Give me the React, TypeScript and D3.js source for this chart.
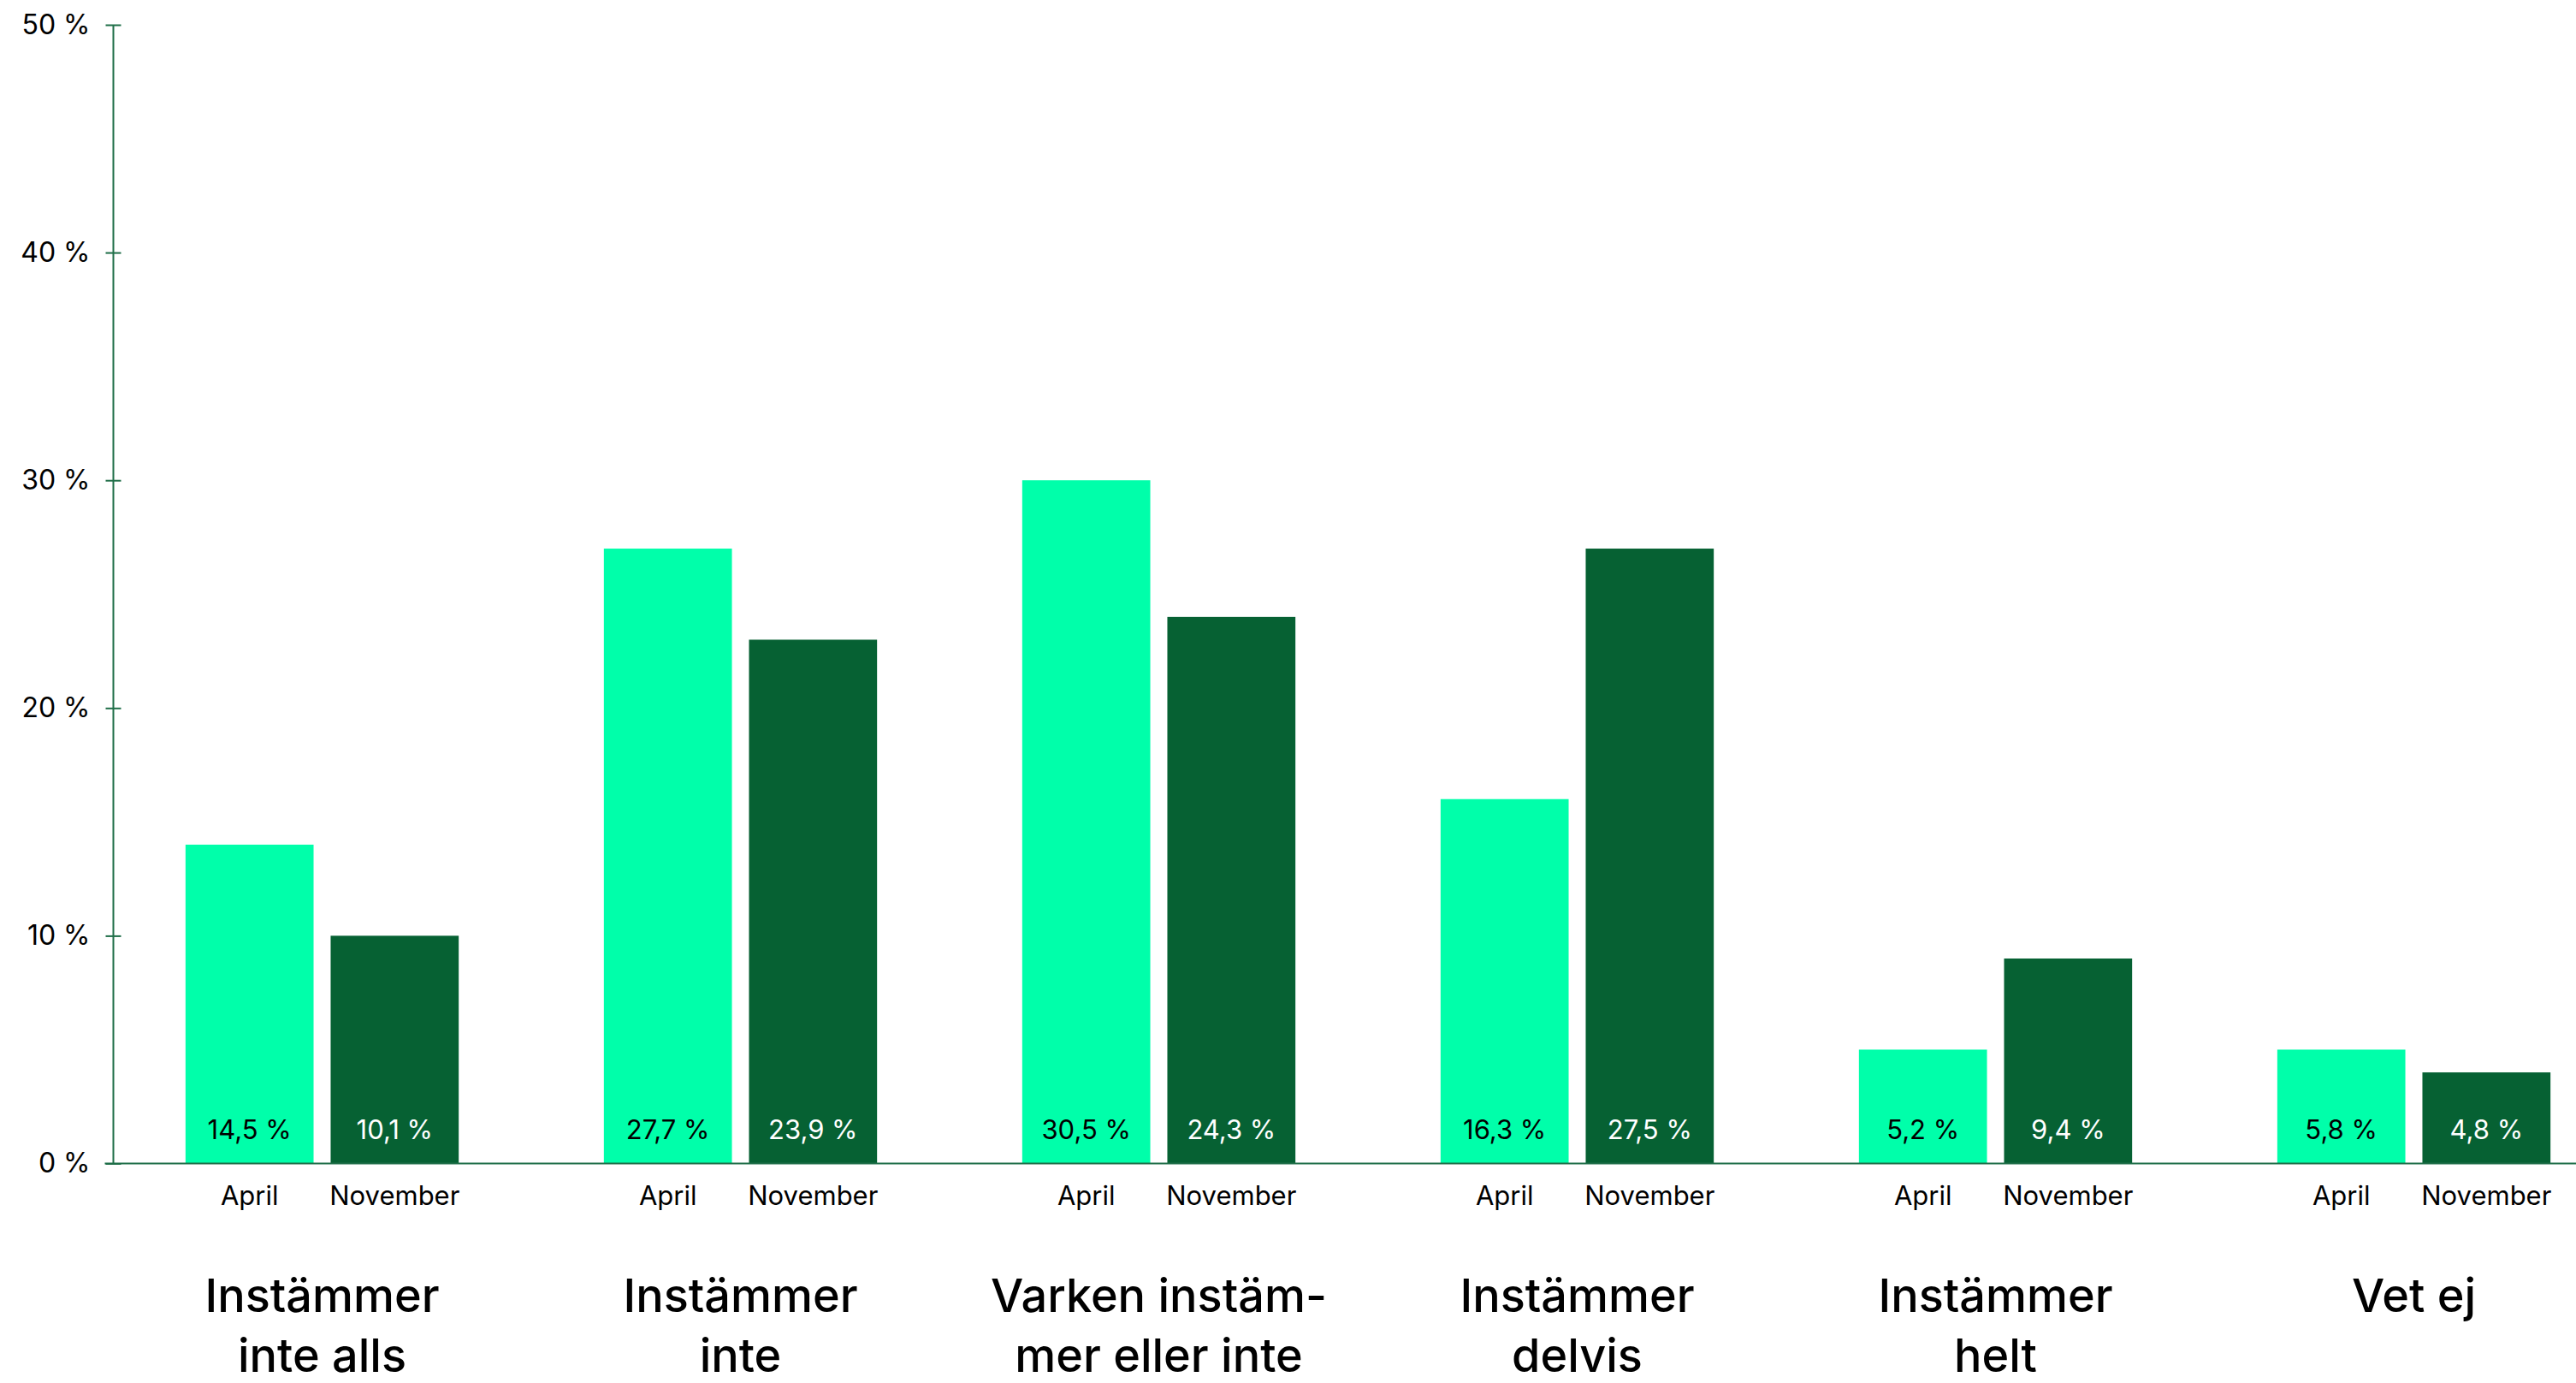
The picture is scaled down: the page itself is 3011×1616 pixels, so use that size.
import { useEffect, useRef } from 'react';
import * as d3 from 'd3';

const categories = ['inte-alls', 'inte', 'varken', 'delvis', 'helt', 'vet-ej'];
const categoryLines = [
  ['Instämmer', 'inte alls'],
  ['Instämmer', 'inte'],
  ['Varken instäm-', 'mer eller inte'],
  ['Instämmer', 'delvis'],
  ['Instämmer', 'helt'],
  ['Vet ej'],
];
const periods = ['April', 'November'];

// bar heights as drawn in the picture
const aprilBars = [14, 27, 30, 16, 5, 5];
const novemberBars = [10, 23, 24, 27, 9, 4];

// printed labels
const aprilLabels = ['14,5 %', '27,7 %', '30,5 %', '16,3 %', '5,2 %', '5,8 %'];
const novemberLabels = ['10,1 %', '23,9 %', '24,3 %', '27,5 %', '9,4 %', '4,8 %'];

const yTicks = [0, 10, 20, 30, 40, 50];

const W = 3011;
const H = 1616;
const FONT = 'Inter, "Noto Sans", sans-serif';
const LIGHT = '#00FFAA';
const DARK = '#066133';
const AXIS = '#1f6e48';

const App = () => {
  const svgRef = useRef<SVGSVGElement | null>(null);

  useEffect(() => {
    const svg = d3.select(svgRef.current);
    svg.selectAll('*').remove();

    const axisX = 132.5;

    const y = d3.scaleLinear().domain([0, 50]).range([1359.5, 29]);

    const x0 = d3.scaleBand<string>()
      .domain(categories)
      .range([132, 3066])
      .paddingInner(0.347)
      .paddingOuter(0.1735);

    const x1 = d3.scaleBand<string>()
      .domain(periods)
      .range([0, x0.bandwidth()])
      .paddingInner(0.1176)
      .paddingOuter(0);

    const rows = categories.map((c, i) => ({
      cat: c,
      lines: categoryLines[i],
      bars: [
        { period: 'April', v: aprilBars[i], label: aprilLabels[i], fill: LIGHT, text: '#000' },
        { period: 'November', v: novemberBars[i], label: novemberLabels[i], fill: DARK, text: '#fff' },
      ],
    }));

    const groups = svg.append('g')
      .selectAll('g')
      .data(rows)
      .join('g')
      .attr('transform', d => `translate(${x0(d.cat)},0)`);

    // Bars
    groups.selectAll('rect')
      .data(d => d.bars)
      .join('rect')
      .attr('x', d => x1(d.period)!)
      .attr('y', d => y(d.v))
      .attr('width', x1.bandwidth())
      .attr('height', d => y(0) - y(d.v))
      .attr('fill', d => d.fill);

    // Value labels inside bars
    groups.selectAll('text.val')
      .data(d => d.bars)
      .join('text')
      .attr('class', 'val')
      .attr('x', d => x1(d.period)! + x1.bandwidth() / 2)
      .attr('y', y(0) - 29)
      .attr('text-anchor', 'middle')
      .style('font-family', FONT)
      .style('font-size', '31px')
      .style('fill', d => d.text)
      .text(d => d.label);

    // Period labels
    groups.selectAll('text.period')
      .data(d => d.bars)
      .join('text')
      .attr('class', 'period')
      .attr('x', d => x1(d.period)! + x1.bandwidth() / 2)
      .attr('y', y(0) + 48)
      .attr('text-anchor', 'middle')
      .style('font-family', FONT)
      .style('font-size', '31px')
      .style('fill', '#000')
      .text(d => d.period);

    // Category labels
    groups.append('text')
      .attr('x', x0.bandwidth() / 2)
      .attr('text-anchor', 'middle')
      .style('font-family', FONT)
      .style('font-size', '54px')
      .style('font-weight', 500)
      .style('fill', '#000')
      .selectAll('tspan')
      .data(d => d.lines)
      .join('tspan')
      .attr('x', x0.bandwidth() / 2)
      .attr('y', (_, i) => 1533 + i * 70)
      .text(d => d);

    // Baseline
    svg.append('line')
      .attr('x1', axisX - 10)
      .attr('x2', W)
      .attr('y1', y(0))
      .attr('y2', y(0))
      .attr('stroke', AXIS)
      .attr('stroke-width', 2);

    // Y axis
    const yAxis = svg.append('g')
      .attr('transform', `translate(${axisX},0)`)
      .call(d3.axisLeft(y).tickValues(yTicks).tickFormat(d => `${d} %`).tickSize(9).tickPadding(20));

    yAxis.select('.domain').remove();
    yAxis.append('line')
      .attr('y1', y(50))
      .attr('y2', y(0))
      .attr('stroke', AXIS)
      .attr('stroke-width', 2);
    yAxis.selectAll('.tick line')
      .attr('x1', -9)
      .attr('x2', 9)
      .attr('stroke', AXIS)
      .attr('stroke-width', 2);
    yAxis.selectAll('.tick text')
      .attr('x', -27)
      .style('font-family', FONT)
      .style('font-size', '32px')
      .style('fill', '#000');
  }, []);

  return (
    <svg
      ref={svgRef}
      width={W}
      height={H}
      style={{ position: 'absolute', left: 0, top: 0, display: 'block', background: '#fff' }}
    />
  );
};

export default App;
